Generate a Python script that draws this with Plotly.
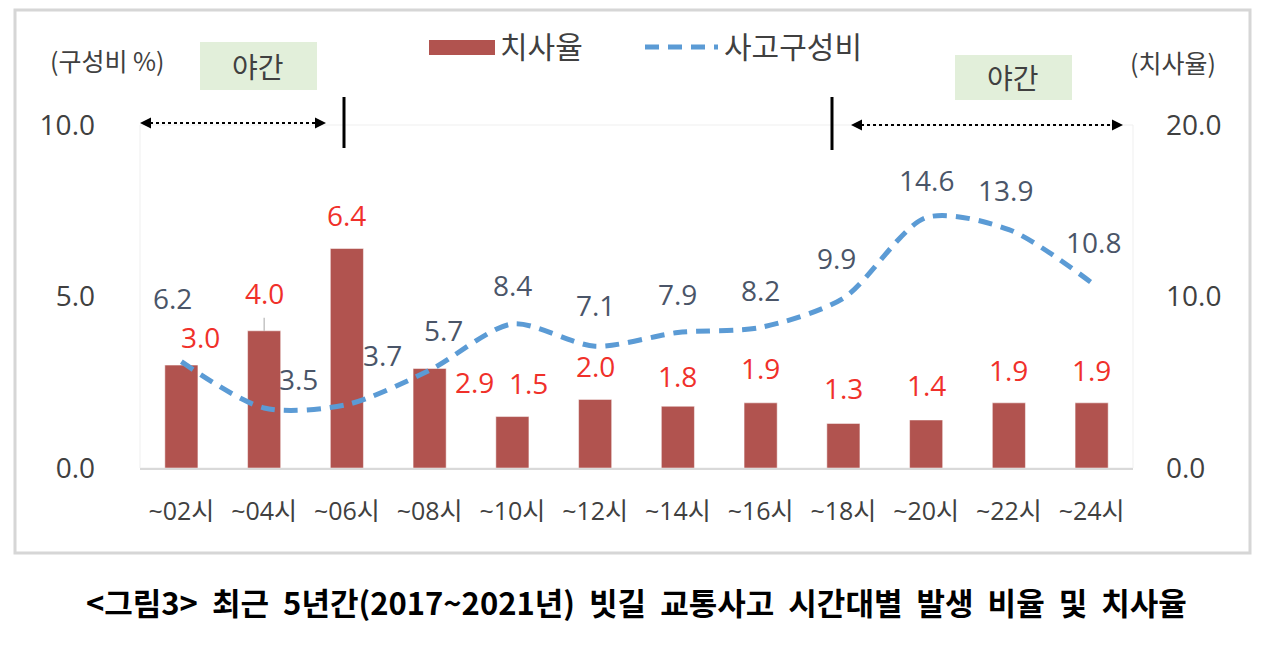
"""빗길 교통사고 시간대별 발생 비율 및 치사율 (그림3) 재현"""
import plotly.graph_objects as go

# 데이터
hours = ["~02시", "~04시", "~06시", "~08시", "~10시", "~12시",
         "~14시", "~16시", "~18시", "~20시", "~22시", "~24시"]
fatality = [3.0, 4.0, 6.4, 2.9, 1.5, 2.0, 1.8, 1.9, 1.3, 1.4, 1.9, 1.9]      # 치사율
share = [6.2, 3.5, 3.7, 5.7, 8.4, 7.1, 7.9, 8.2, 9.9, 14.6, 13.9, 10.8]       # 사고구성비

# 라벨 위치 보정 (px, 위쪽이 +)
bar_label_shift = [(19, 28), (0, 38), (0, 33), (45, -13), (16, 34), (0, 33),
                   (0, 30), (0, 35), (0, 35), (0, 35), (0, 33), (0, 33)]
line_label_shift = [(-9, 64), (34, 29), (36, 50), (14, 40), (0, 39), (0, 41),
                    (0, 39), (0, 37), (-7, 40), (0, 38), (-3, 40), (2, 41)]

BAR_COLOR = "#B1534F"
LINE_COLOR = "#5B9BD5"
NUM_FONT = "Open Sans, Noto Sans CJK KR"
KR_FONT = "Noto Sans CJK KR"

# 페이지 body 여백(8px) 보정 후 플롯 영역 (화면 픽셀)
OFF = 8
FIG_W, FIG_H = 1268 - 2 * OFF, 646 - 2 * OFF
L, T, R, B = 140, 125, 1133, 468
W, H = R - L, B - T


def px(x):
    return (x - L) / W


def py(y):
    return (B - y) / H


def note(x, y, text, size, color="#404040", family=KR_FONT, xanchor="center"):
    return dict(x=px(x), y=py(y), xref="paper", yref="paper", text=text, showarrow=False,
                xanchor=xanchor, yanchor="middle", font=dict(family=family, size=size, color=color))


fig = go.Figure()
fig.add_trace(go.Bar(x=hours, y=fatality, name="치사율", marker_color=BAR_COLOR,
                     width=0.4, yaxis="y"))
fig.add_trace(go.Scatter(x=hours, y=share, name="사고구성비", mode="lines", yaxis="y2",
                         line=dict(color=LINE_COLOR, width=5, dash="14px,9px",
                                   shape="spline", smoothing=0.8)))

ann = []
for h, v, (dx, dy) in zip(hours, fatality, bar_label_shift):
    ann.append(dict(x=h, y=v, xref="x", yref="y", text=f"{v:.1f}", showarrow=False,
                    xanchor="center", yanchor="middle", xshift=dx, yshift=dy,
                    font=dict(family=NUM_FONT, size=28, color="#F0302A")))
for h, v, (dx, dy) in zip(hours, share, line_label_shift):
    ann.append(dict(x=h, y=v, xref="x", yref="y2", text=f"{v:.1f}", showarrow=False,
                    xanchor="center", yanchor="middle", xshift=dx, yshift=dy,
                    font=dict(family=NUM_FONT, size=28, color="#4A5568")))

# 축 제목
ann.append(note(107, 60, "(구성비 %)", 25))
ann.append(note(1173, 62, "(치사율)", 25))

# 범례
ann.append(note(498, 45, "치사율", 30, xanchor="left"))
ann.append(note(722, 45, "사고구성비", 30, xanchor="left"))

# 야간 표시
ann.append(note(258, 66, "야간", 28))
ann.append(note(1013, 77, "야간", 28))

# 화살촉
for tip, tail, y in [(140, 152, 123), (326, 314, 123), (851, 863, 125), (1123, 1111, 125)]:
    ann.append(dict(x=px(tip), y=py(y), xref="paper", yref="paper", text="", showarrow=True,
                    ax=tail - tip, ay=0, arrowhead=2, arrowsize=1.1, arrowwidth=2,
                    arrowcolor="black", standoff=0))

# 캡션
sp = "\u00a0" * 2
caption = sp.join(["<그림3>", "최근", "5년간(2017~2021년)", "빗길", "교통사고",
                   "시간대별", "발생", "비율", "및", "치사율"])
ann.append(note(636, 601, f"<b>{caption}</b>", 31, color="black"))

shapes = [
    # 외곽 테두리
    dict(type="rect", xref="paper", yref="paper", x0=px(15), x1=px(1250), y0=py(553), y1=py(10),
         line=dict(color="#d6d6d6", width=3), layer="below"),
    # 플롯 테두리
    dict(type="rect", xref="paper", yref="paper", x0=0, x1=1, y0=0, y1=1,
         line=dict(color="#efefef", width=1), layer="below"),
    # 범례 기호
    dict(type="rect", xref="paper", yref="paper", x0=px(429), x1=px(495), y0=py(55), y1=py(40),
         fillcolor=BAR_COLOR, line=dict(width=0)),
    dict(type="line", xref="paper", yref="paper", x0=px(645), x1=px(718), y0=py(47), y1=py(47),
         line=dict(color=LINE_COLOR, width=5, dash="14px,9px")),
    # 야간 박스
    dict(type="rect", xref="paper", yref="paper", x0=px(200), x1=px(317), y0=py(90), y1=py(42),
         fillcolor="#E2EFDA", line=dict(width=0), layer="below"),
    dict(type="rect", xref="paper", yref="paper", x0=px(955), x1=px(1072), y0=py(100), y1=py(55),
         fillcolor="#E2EFDA", line=dict(width=0), layer="below"),
    # 점선 화살표 몸통
    dict(type="line", xref="paper", yref="paper", x0=px(150), x1=px(316), y0=py(123), y1=py(123),
         line=dict(color="black", width=2, dash="dot")),
    dict(type="line", xref="paper", yref="paper", x0=px(861), x1=px(1113), y0=py(125), y1=py(125),
         line=dict(color="black", width=2, dash="dot")),
    # 구분 막대
    dict(type="line", xref="paper", yref="paper", x0=px(344), x1=px(344), y0=py(148), y1=py(97),
         line=dict(color="black", width=3)),
    dict(type="line", xref="paper", yref="paper", x0=px(832), x1=px(832), y0=py(150), y1=py(97),
         line=dict(color="black", width=3)),
    # 4.0 라벨 지시선
    dict(type="line", xref="x", yref="y", x0=1, x1=1, y0=4.0, y1=4.38,
         line=dict(color="#a6a6a6", width=1)),
]

fig.update_layout(
    width=FIG_W,
    height=FIG_H,
    margin=dict(l=L - OFF, r=FIG_W - (R - OFF), t=T - OFF, b=FIG_H - (B - OFF), pad=0),
    template="plotly_white",
    plot_bgcolor="white",
    paper_bgcolor="white",
    showlegend=False,
    xaxis=dict(type="category", range=[-0.5, 11.5], showgrid=False, showline=True,
               linecolor="#d9d9d9", linewidth=2, ticks="", automargin=False,
               ticklabelstandoff=20,
               tickfont=dict(family=NUM_FONT, size=25, color="#404040")),
    yaxis=dict(range=[0, 10], dtick=5, tickformat=".1f", showgrid=False, zeroline=False,
               showline=False, ticks="", automargin=False, ticklabelstandoff=44,
               tickfont=dict(family=NUM_FONT, size=28, color="#404040")),
    yaxis2=dict(range=[0, 20], dtick=10, tickformat=".1f", overlaying="y", side="right",
                showgrid=False, zeroline=False, showline=False, ticks="", automargin=False,
                ticklabelstandoff=32,
                tickfont=dict(family=NUM_FONT, size=28, color="#404040")),
    annotations=ann,
    shapes=shapes,
)

fig.write_html("out.html")
